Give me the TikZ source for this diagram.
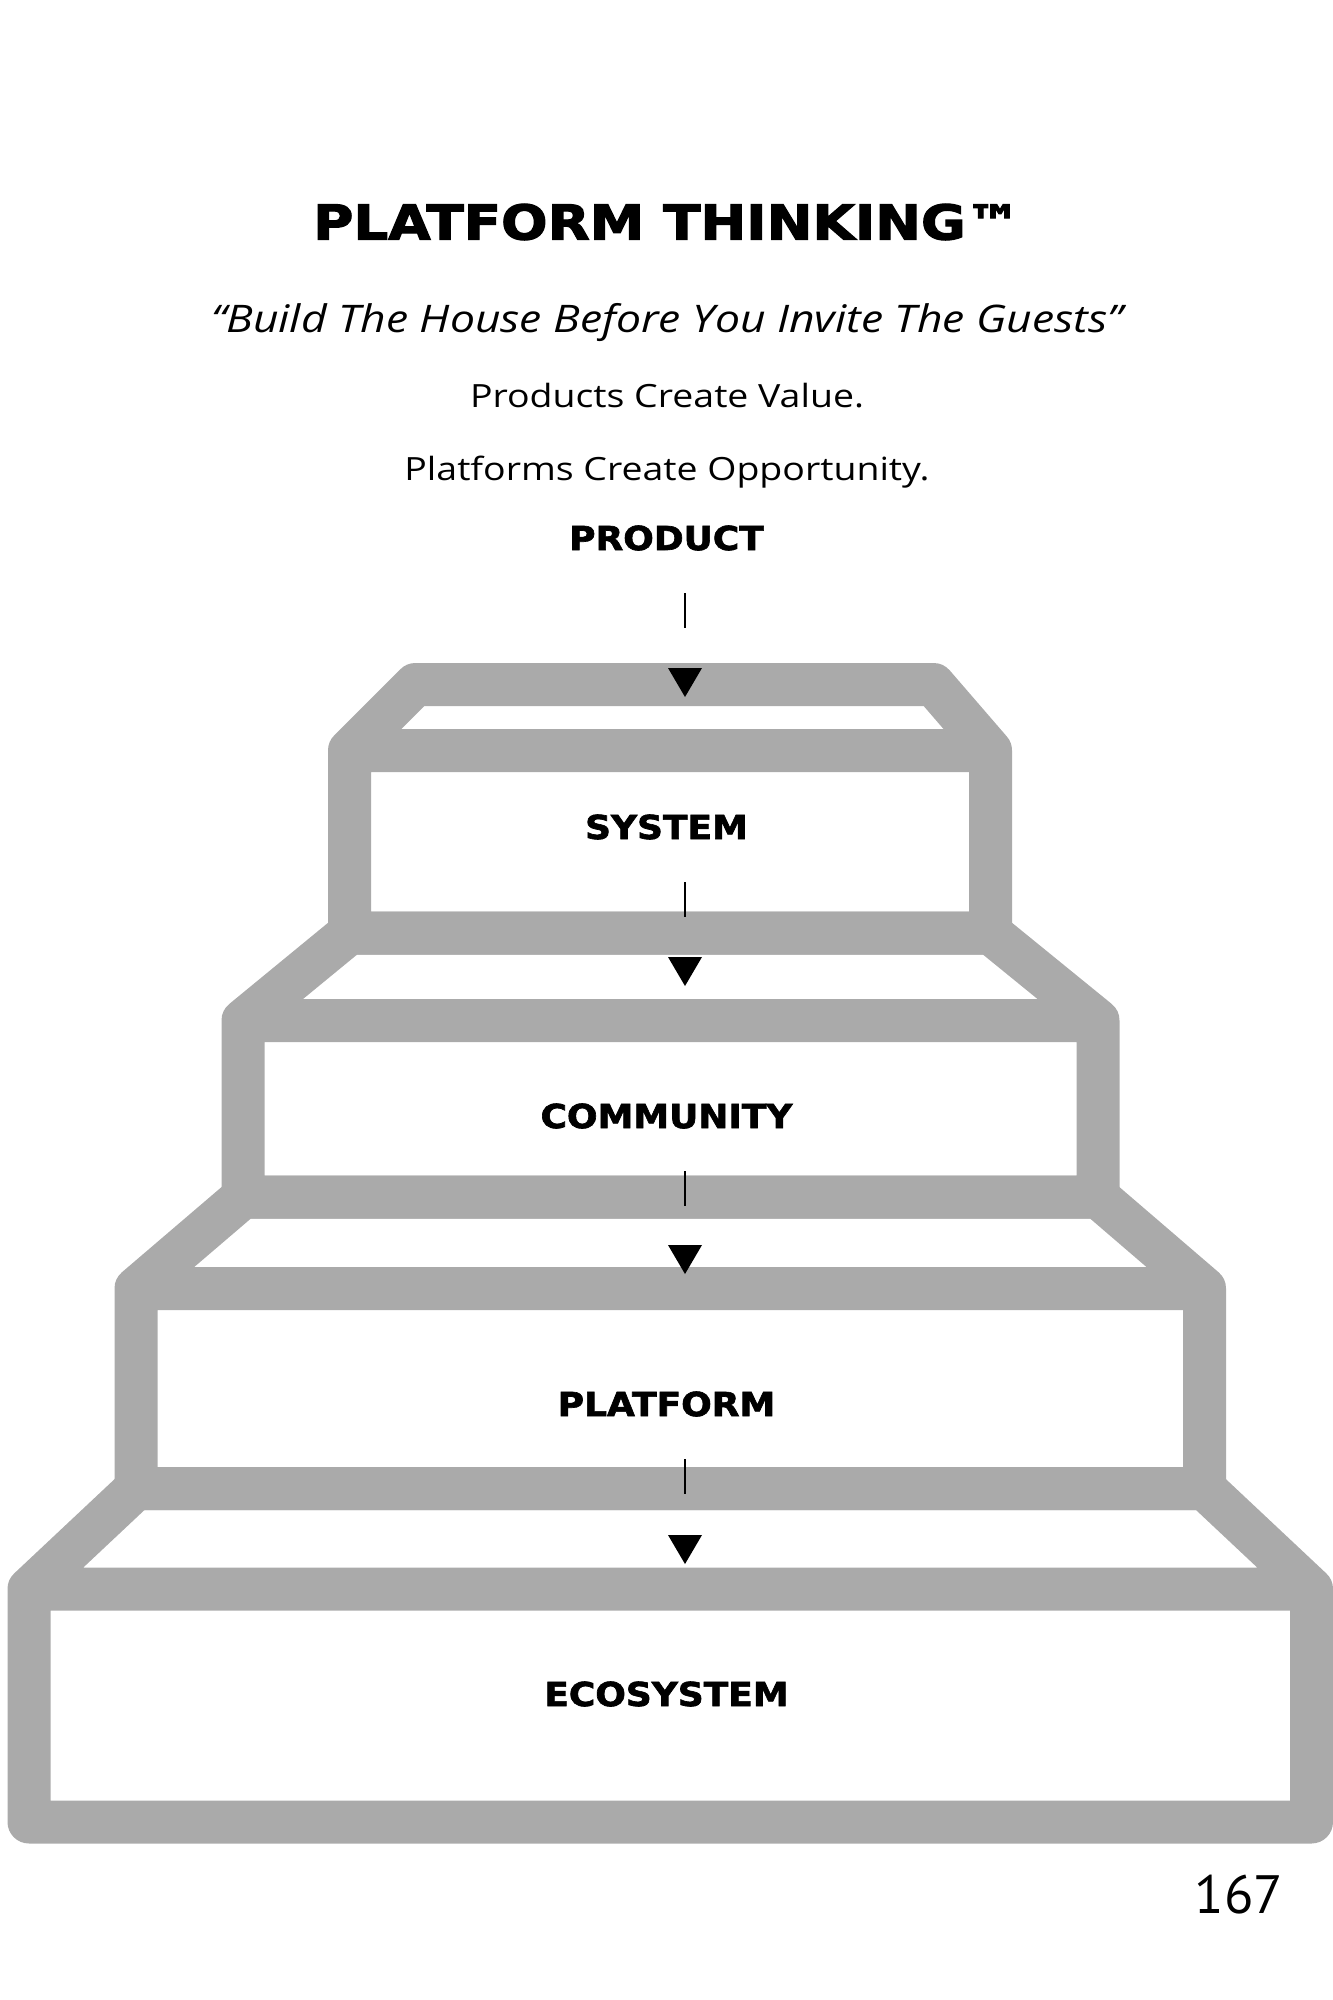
\documentclass[tikz,border=0pt]{standalone}
\usepackage{fontspec}
\setmainfont{Open Sans}[FakeStretch=1.17]
\newfontfamily\heavyfont{DejaVu Sans Bold}[FakeBold=2, FakeStretch=1.09]
\newfontfamily\titlefont{DejaVu Sans Bold}[FakeBold=2.5, FakeStretch=1.14]
\newfontfamily\pagefont{PT Sans}
\usetikzlibrary{calc}
\definecolor{stepgrey}{HTML}{AAAAAA}

\begin{document}
\begin{tikzpicture}[
  x=1pt, y=-1pt,
  stepbox/.style={draw=stepgrey, line width=43pt, line join=round},
  steplabel/.style={font=\heavyfont\fontsize{33}{36}\selectfont, inner sep=0pt},
  textline/.style={font=\fontsize{32}{36}\selectfont, inner sep=0pt, anchor=base},
  stem/.style={draw=black, line width=1.5pt},
  tip/.style={fill=black}
]
  \useasboundingbox (0,0) rectangle (1333,2000);
  % heading
  \node[font=\titlefont\fontsize{48}{52}\selectfont, inner sep=0pt] (title) at (667,222) {PLATFORM THINKING™};
  \node[textline, font=\itshape\fontsize{38}{42}\selectfont] (motto) at (667,332) {“Build The House Before You Invite The Guests”};
  \node[textline] (line1) at (667,407) {Products Create Value.};
  \node[textline] (line2) at (667,480) {Platforms Create Opportunity.};
  % stacked boxes, top to bottom
  \foreach \ta/\tb/\ba/\bb/\ya/\yb/\yc in {
      415.5/933.5/349.5/990.5/684.5/750.5/933,
      349.5/990.5/243/1098/933/1020.5/1197,
      243/1098/136/1204.5/1197/1288.5/1488.5,
      136/1204.5/29/1311.5/1488.5/1589/1822}
    \draw[stepbox] (\ta,\ya) -- (\tb,\ya) -- (\bb,\yb) -- (\bb,\yc) -- (\ba,\yc) -- (\ba,\yb) -- cycle
      (\ba,\yb) -- (\bb,\yb);
  \node[steplabel] (product) at (666.5,538) {PRODUCT};
  \node[steplabel] (system) at (666.5,827) {SYSTEM};
  \node[steplabel] (community) at (666.5,1116) {COMMUNITY};
  \node[steplabel] (platform) at (666.5,1404) {PLATFORM};
  \node[steplabel] (ecosystem) at (666.5,1694) {ECOSYSTEM};
  \foreach \a/\b in {product/system, system/community, community/platform, platform/ecosystem} {
    \draw[stem] ($(\a)+(18.5,55)$) -- ($(\a)+(18.5,90)$);
    \fill[tip] ($(\b)+(1.5,-159)$) -- ($(\b)+(35.5,-159)$) -- ($(\b)+(18.5,-130)$) -- cycle;
  }
  \node[font=\pagefont\fontsize{54}{58}\selectfont, inner sep=0pt, anchor=base] (page) at (1239,1913) {167};
\end{tikzpicture}
\end{document}
